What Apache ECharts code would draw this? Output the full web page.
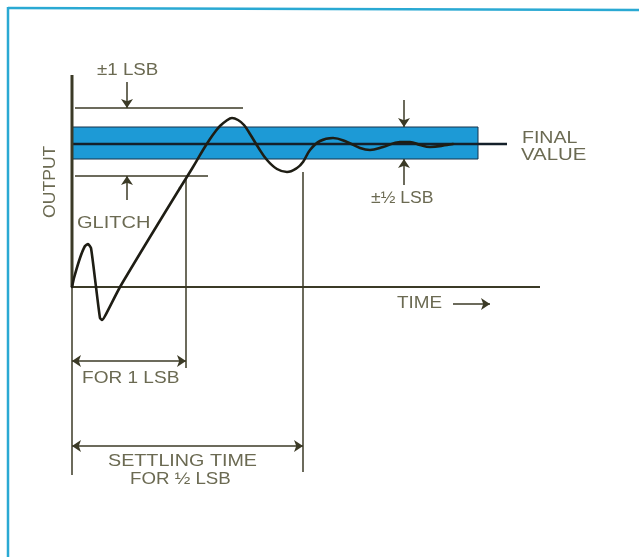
<!DOCTYPE html>
<html>
<head>
<meta charset="utf-8">
<script src="https://cdn.jsdelivr.net/npm/echarts@6/dist/echarts.min.js"></script>
<style>
  html, body { margin: 0; padding: 0; background: #fff; }
  #chart { width: 639px; height: 557px; }
</style>
</head>
<body>
<div id="chart"></div>
<script>
  // time runs right from the origin, output runs up from the time axis
  var respT = [0, 2, 8, 13, 16, 19, 24, 28, 30, 33, 48, 78, 108, 121, 131, 138, 143, 148, 154, 160, 166, 172, 178, 186, 195, 205, 215, 225, 231, 238, 248, 261, 275, 288, 298, 311, 328, 338, 348, 358, 375, 381];
  var respV = [0, 9, 29, 41, 43, 39, 0, -31, -33, -29, 0, 50, 99, 120, 137, 148, 155, 161, 166, 169, 167, 162, 153, 140, 127, 118, 115, 119, 125, 137, 146, 149, 145, 139, 137, 140, 145, 145, 142, 140, 142, 143];
  var rampEnd = 12; // glitch + ramp are near-straight, the ringing after is smooth

  var finalValue = 143, finalEnd = 435;
  var bandLow = 128, bandHigh = 160, bandEnd = 406;
  var lsbHigh = 179, lsbHighEnd = 171;
  var lsbLow = 111, lsbLowEnd = 136;
  var timeAxisEnd = 468;
  var settle1 = 114, settle1Top = 109, settle1Bottom = -81;
  var settleHalf = 231, settleHalfTop = 115, settleHalfBottom = -185;
  var outAxisTop = 212, outAxisBottom = -188;
  var dim1Y = -74, dimHalfY = -159;
  var arrowLsbX = 55, arrowHalfX = 332;

  var ink = "#3b3a26", textColor = "#6b6a52", blue = "#1d9ad6", curveColor = "#1e1d14";

  var chartDom = echarts.init(document.getElementById("chart"));

  function seg(coords, width, color) {
    return {
      type: "line", data: coords, symbol: "none", silent: true, z: 3,
      lineStyle: {width: width, color: color || ink}, animation: false
    };
  }
  function arrow(coords, both) {
    return {coords: coords, symbol: both ? ["arrow", "arrow"] : ["none", "arrow"]};
  }
  function curve(from, to, smooth) {
    var pts = [];
    for (var i = from; i <= to; i++) pts.push([respT[i], respV[i]]);
    return {
      type: "line", data: pts, symbol: "none", smooth: smooth, z: 5, silent: true,
      lineStyle: {width: 2.6, color: curveColor, cap: "round", join: "round"}
    };
  }

  // scanned lettering is wider than the installed fonts, so stretch it a bit
  var txt = function (t, x, y, size, sx, extra) {
    return Object.assign({
      type: "text", x: x, y: y, scaleX: sx || 1.15,
      style: {text: t, fill: textColor, verticalAlign: "top",
        font: (size || 16) + "px 'Liberation Sans', Arial, sans-serif"}
    }, extra || {});
  };

  var option = {
    animation: false,
    grid: {left: 0, right: 0, top: 0, bottom: 0},
    xAxis: {type: "value", min: -72, max: 567, show: false},
    yAxis: {type: "value", min: -270, max: 287, show: false},
    series: [
      {
        type: "line", data: [], z: 1,
        markArea: {
          silent: true,
          itemStyle: {color: blue, borderColor: "#17324a", borderWidth: 1},
          data: [[{xAxis: 0, yAxis: bandLow}, {xAxis: bandEnd, yAxis: bandHigh}]]
        }
      },
      seg([[0, finalValue], [finalEnd, finalValue]], 2.5, "#14202a"),
      seg([[3, lsbHigh], [lsbHighEnd, lsbHigh]], 1.5),
      seg([[3, lsbLow], [lsbLowEnd, lsbLow]], 1.5),
      seg([[0, 0], [timeAxisEnd, 0]], 2),
      seg([[0, outAxisTop], [0, 0]], 3),
      seg([[0, 0], [0, outAxisBottom]], 1.5),
      seg([[settle1, settle1Top], [settle1, settle1Bottom]], 1.5),
      seg([[settleHalf, settleHalfTop], [settleHalf, settleHalfBottom]], 1.5),
      {
        type: "lines", coordinateSystem: "cartesian2d", z: 4, silent: true,
        symbolSize: 9,
        lineStyle: {color: ink, width: 1.5, opacity: 1},
        data: [
          arrow([[arrowLsbX, 205], [arrowLsbX, lsbHigh]]),
          arrow([[arrowLsbX, 87], [arrowLsbX, lsbLow]]),
          arrow([[arrowHalfX, 187], [arrowHalfX, bandHigh]]),
          arrow([[arrowHalfX, 102], [arrowHalfX, bandLow]]),
          arrow([[0, dim1Y], [settle1, dim1Y]], true),
          arrow([[0, dimHalfY], [settleHalf, dimHalfY]], true),
          arrow([[381, -17], [418, -17]])
        ]
      },
      curve(0, rampEnd, 0.15),
      curve(rampEnd, respT.length - 1, 0.4)
    ],
    graphic: [
      {type: "line", shape: {x1: 8, y1: 8, x2: 639, y2: 10}, style: {stroke: "#2aa9d3", lineWidth: 2.5}},
      {type: "line", shape: {x1: 8, y1: 7, x2: 8, y2: 557}, style: {stroke: "#2aa9d3", lineWidth: 2.5}},
      txt("\u00b11 LSB", 97, 63, 16, 1.17),
      txt("FINAL", 522, 130, 17, 1.15),
      txt("VALUE", 521, 147, 17, 1.2),
      txt("\u00b1\u00bd LSB", 371, 191, 16, 1.1),
      txt("GLITCH", 77, 216, 16, 1.25),
      txt("TIME", 397, 296, 16, 1.18),
      txt("FOR 1 LSB", 82, 370, 17, 1.12),
      txt("SETTLING TIME", 108, 453, 17, 1.16),
      txt("FOR \u00bd LSB", 130, 471, 17, 1.1),
      {
        type: "text", x: 43, y: 218, rotation: Math.PI / 2, scaleX: 1.1,
        style: {text: "OUTPUT", fill: textColor, font: "16px 'Liberation Sans', Arial, sans-serif"}
      }
    ]
  };

  chartDom.setOption(option);
</script>
</body>
</html>
